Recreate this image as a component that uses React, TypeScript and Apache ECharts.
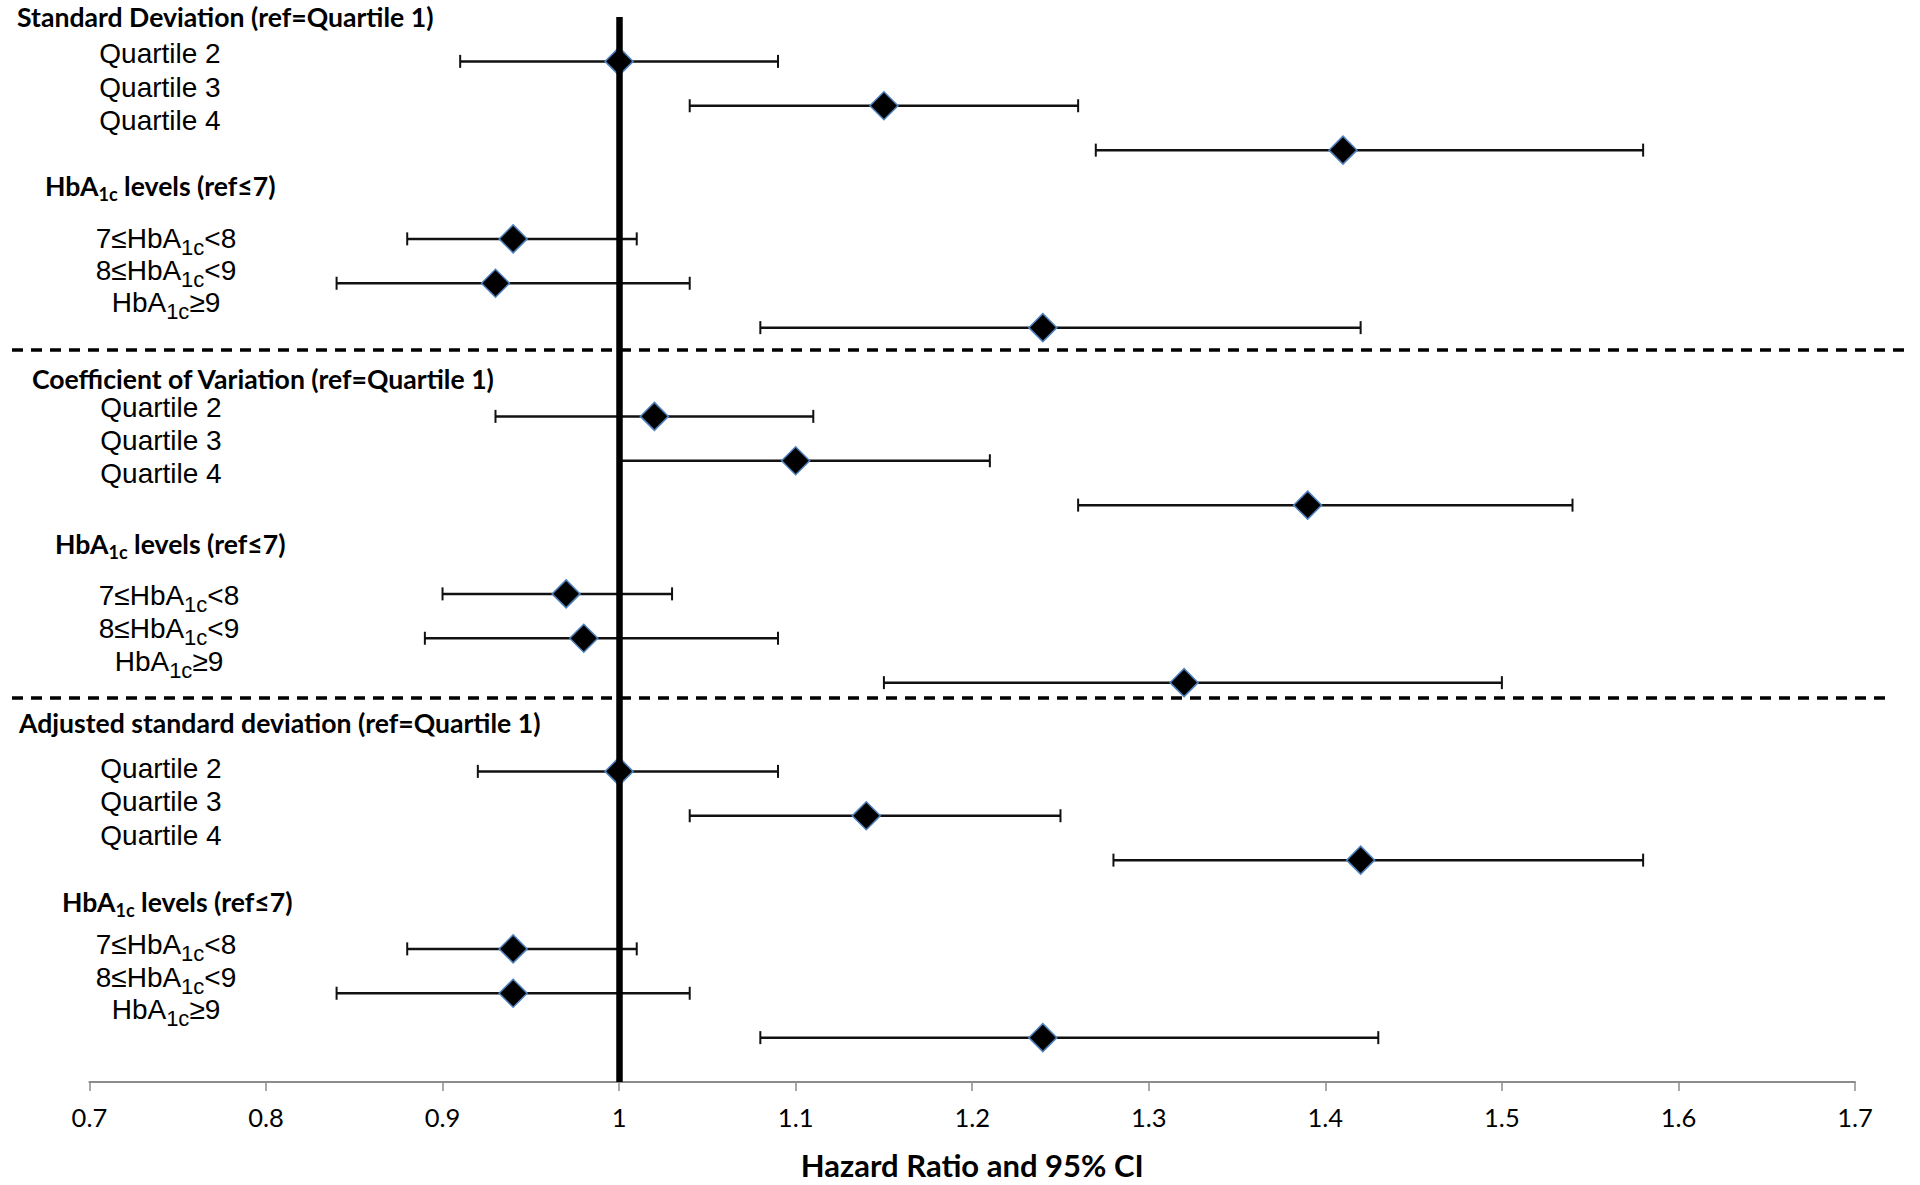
import React, { useEffect, useRef } from "react";
import * as echarts from "echarts";

// ---------- data ----------
// vertical slot of each estimate (0 = top row)
const rowPositions = [0, 1, 2, 4, 5, 6, 8, 9, 10, 12, 13, 14, 16, 17, 18, 20, 21, 22];
const hazardRatios = [1.0, 1.15, 1.41, 0.94, 0.93, 1.24, 1.02, 1.1, 1.39, 0.97, 0.98, 1.32, 1.0, 1.14, 1.42, 0.94, 0.94, 1.24];
const ciLower = [0.91, 1.04, 1.27, 0.88, 0.84, 1.08, 0.93, 1.0, 1.26, 0.9, 0.89, 1.15, 0.92, 1.04, 1.28, 0.88, 0.84, 1.08];
const ciUpper = [1.09, 1.26, 1.58, 1.01, 1.04, 1.42, 1.11, 1.21, 1.54, 1.03, 1.09, 1.5, 1.09, 1.25, 1.58, 1.01, 1.04, 1.43];
const referenceValue = 1;
const xMin = 0.7;
const xMax = 1.7;
const xInterval = 0.1;
const axisTitle = "Hazard Ratio and 95% CI";

const sectionHeaders = [
  "Standard Deviation (ref=Quartile 1)",
  "Coefficient of Variation (ref=Quartile 1)",
  "Adjusted standard deviation (ref=Quartile 1)",
];
const quartileLabels = ["Quartile 2", "Quartile 3", "Quartile 4"];
// rich-text labels: [before, subscript, after]
const hbaHeader: [string, string, string] = ["HbA", "1c", " levels (ref≤7)"];
const hbaLabels: [string, string, string][] = [
  ["7≤HbA", "1c", "<8"],
  ["8≤HbA", "1c", "<9"],
  ["HbA", "1c", "≥9"],
];

// ---------- layout (pixels) ----------
const headerPos = [
  { x: 17, y: 17 },
  { x: 32, y: 379 },
  { x: 19, y: 723 },
];
const quartilePos = [
  { x: 160, ys: [53, 87, 120] },
  { x: 161, ys: [407, 440, 473] },
  { x: 161, ys: [768, 801, 835] },
];
const hbaHeaderPos = [
  { x: 45, y: 185 },
  { x: 55, y: 543 },
  { x: 62, y: 901 },
];
const hbaPos = [
  { x: 166, ys: [238, 270, 302] },
  { x: 169, ys: [595, 628, 661] },
  { x: 166, ys: [944, 977, 1009] },
];
const separators = [
  { y: 350, x1: 12, x2: 1910 },
  { y: 698, x1: 12, x2: 1886 },
];

const LABEL_FONT = '"Liberation Sans", Arial, sans-serif';
const BOLD_FONT = 'Lato, "Open Sans", sans-serif';

function buildGraphics() {
  const els: any[] = [];
  sectionHeaders.forEach((t, i) => {
    els.push({
      type: "text",
      x: headerPos[i].x,
      y: headerPos[i].y,
      style: {
        text: t,
        fontFamily: BOLD_FONT,
        fontWeight: "bold",
        fontSize: 26.6,
        fill: "#000",
        align: "left",
        verticalAlign: "middle",
      },
    });
  });
  quartilePos.forEach((p) => {
    quartileLabels.forEach((t, j) => {
      els.push({
        type: "text",
        x: p.x,
        y: p.ys[j],
        style: {
          text: t,
          fontFamily: LABEL_FONT,
          fontSize: 28,
          fill: "#000",
          align: "center",
          verticalAlign: "middle",
        },
      });
    });
  });
  hbaHeaderPos.forEach((p) => {
    els.push({
      type: "text",
      x: p.x,
      y: p.y,
      style: {
        text: `{m|${hbaHeader[0]}}{s|${hbaHeader[1]}}{m|${hbaHeader[2]}}`,
        align: "left",
        verticalAlign: "middle",
        rich: {
          m: { fontFamily: BOLD_FONT, fontWeight: "bold", fontSize: 26.6, lineHeight: 26, verticalAlign: "top", fill: "#000" },
          s: { fontFamily: BOLD_FONT, fontWeight: "bold", fontSize: 18, lineHeight: 18, padding: [13, 0, 0, 0], verticalAlign: "top", fill: "#000" },
        },
      },
    });
  });
  hbaPos.forEach((p) => {
    hbaLabels.forEach((lab, j) => {
      els.push({
        type: "text",
        x: p.x,
        y: p.ys[j],
        style: {
          text: `{m|${lab[0]}}{s|${lab[1]}}{m|${lab[2]}}`,
          align: "center",
          verticalAlign: "middle",
          rich: {
            m: { fontFamily: LABEL_FONT, fontSize: 28, lineHeight: 28, verticalAlign: "top", fill: "#000" },
            s: { fontFamily: LABEL_FONT, fontSize: 22, lineHeight: 22, padding: [12, 0, 0, 0], verticalAlign: "top", fill: "#000" },
          },
        },
      });
    });
  });
  separators.forEach((s) => {
    els.push({
      type: "line",
      shape: { x1: s.x1, y1: s.y, x2: s.x2, y2: s.y },
      style: { stroke: "#000", lineWidth: 3.5, lineDash: [11, 8] },
      z: 10,
    });
  });
  return els;
}

export default function App() {
  const ref = useRef<HTMLDivElement>(null);
  useEffect(() => {
    if (!ref.current) return;
    const chart = echarts.init(ref.current, undefined, { renderer: "svg" });
    const errData = rowPositions.map((p, i) => [ciLower[i], ciUpper[i], p]);
    const ptData = rowPositions.map((p, i) => [hazardRatios[i], p]);
    chart.setOption({
      animation: false,
      backgroundColor: "#fff",
      grid: { left: 89.4, right: 65, top: 17, bottom: 99, containLabel: false },
      xAxis: {
        type: "value",
        min: xMin,
        max: xMax,
        interval: xInterval,
        name: axisTitle,
        nameLocation: "middle",
        nameGap: 67,
        nameTextStyle: { fontFamily: BOLD_FONT, fontWeight: "bold", fontSize: 31, color: "#000", lineHeight: 31 },
        axisLine: { show: true, onZero: false, lineStyle: { color: "#8c8c8c", width: 2 } },
        axisTick: { show: true, length: 9, lineStyle: { color: "#8c8c8c", width: 1.5 } },
        splitLine: { show: false },
        axisLabel: { fontFamily: BOLD_FONT, fontSize: 25.5, color: "#000", margin: 22 },
      },
      yAxis: {
        type: "value",
        min: -1,
        max: 23,
        inverse: true,
        show: false,
        splitLine: { show: false },
      },
      graphic: buildGraphics(),
      series: [
        {
          type: "custom",
          z: 2,
          data: errData,
          encode: { x: [0, 1], y: 2 },
          renderItem: (params: any, api: any) => {
            const y = api.value(2);
            const p1 = api.coord([api.value(0), y]);
            const p2 = api.coord([api.value(1), y]);
            const h = 6.5;
            return {
              type: "group",
              children: [
                { type: "line", shape: { x1: p1[0], y1: p1[1], x2: p2[0], y2: p2[1] }, style: { stroke: "#111", lineWidth: 2.5 } },
                { type: "line", shape: { x1: p1[0], y1: p1[1] - h, x2: p1[0], y2: p1[1] + h }, style: { stroke: "#111", lineWidth: 2 } },
                { type: "line", shape: { x1: p2[0], y1: p2[1] - h, x2: p2[0], y2: p2[1] + h }, style: { stroke: "#111", lineWidth: 2 } },
              ],
            };
          },
        },
        {
          type: "scatter",
          z: 3,
          data: [],
          markLine: {
            silent: true,
            symbol: "none",
            label: { show: false },
            lineStyle: { color: "#000", width: 6.5, type: "solid" },
            data: [{ xAxis: referenceValue }],
          },
        },
        {
          type: "scatter",
          z: 4,
          data: ptData,
          symbol: "diamond",
          symbolSize: [28, 28],
          itemStyle: { color: "#000", borderColor: "#4f81bd", borderWidth: 1.5, opacity: 1 },
        },
      ],
    });
    return () => chart.dispose();
  }, []);
  return (
    <div
      ref={ref}
      style={{ position: "absolute", left: 0, top: 0, width: 1920, height: 1185, background: "#fff" }}
    />
  );
}
